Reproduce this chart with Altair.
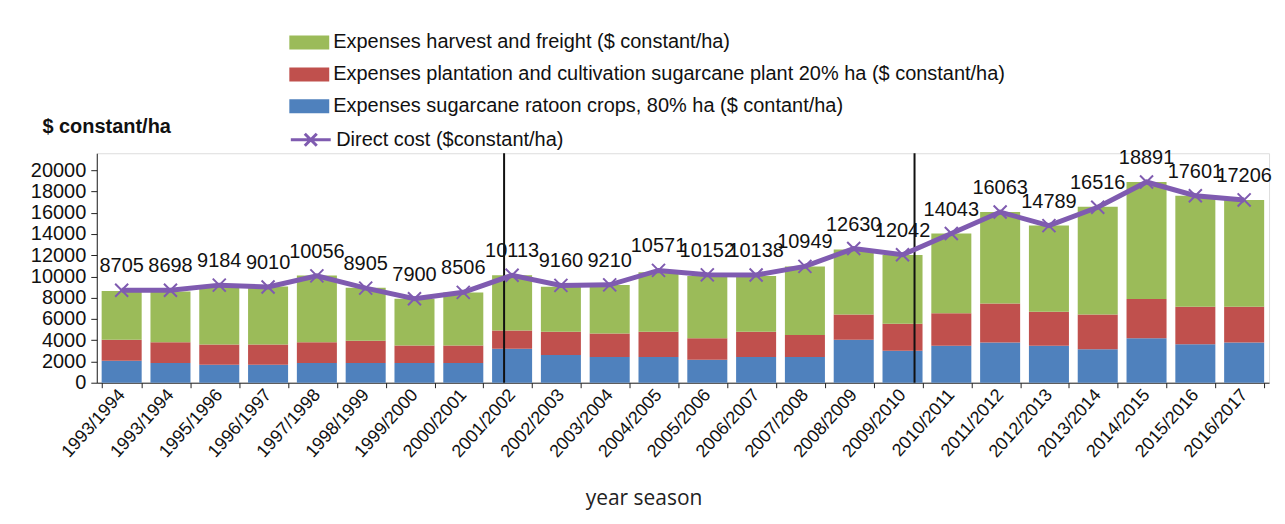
import json
import altair as alt
import pandas as pd

seasons = ["1993/1994", "1993/1994", "1995/1996", "1996/1997", "1997/1998", "1998/1999",
           "1999/2000", "2000/2001", "2001/2002", "2002/2003", "2003/2004", "2004/2005",
           "2005/2006", "2006/2007", "2007/2008", "2008/2009", "2009/2010", "2010/2011",
           "2011/2012", "2012/2013", "2013/2014", "2014/2015", "2015/2016", "2016/2017"]
direct_cost = [8705, 8698, 9184, 9010, 10056, 8905, 7900, 8506, 10113, 9160, 9210, 10571,
               10152, 10138, 10949, 12630, 12042, 14043, 16063, 14789, 16516, 18891, 17601, 17206]
ratoon = [2070, 1850, 1690, 1690, 1850, 1850, 1850, 1850, 3190, 2600, 2410, 2410,
          2160, 2410, 2410, 4040, 3000, 3470, 3790, 3470, 3160, 4190, 3630, 3790]
plantation = [1970, 1970, 1910, 1910, 1970, 2090, 1650, 1650, 1720, 2190, 2220, 2380,
              2030, 2380, 2090, 2380, 2540, 3070, 3660, 3200, 3260, 3700, 3510, 3350]
harvest = [4600, 4760, 5500, 5450, 6260, 5000, 4400, 4980, 5200, 4250, 4570, 5600,
           5860, 5260, 6450, 6130, 6480, 7510, 8610, 8120, 10140, 11010, 10450, 10070]
y_ticks = [0, 2000, 4000, 6000, 8000, 10000, 12000, 14000, 16000, 18000, 20000]

s_harvest = "Expenses harvest and freight ($ constant/ha)"
s_plant = "Expenses plantation and cultivation sugarcane plant  20%  ha ($ constant/ha)"
s_ratoon = "Expenses sugarcane ratoon crops, 80% ha ($ contant/ha)"
s_direct = "Direct cost ($constant/ha)"

series_names = [s_harvest, s_plant, s_ratoon]
series_colors = ["#9bbb59", "#c0504d", "#4f81bd"]
line_color = "#7f5bb0"

FONT = "Liberation Sans"
YMAX = 21600

rows = []
for i in range(len(seasons)):
    rows.append({"idx": i, "series": s_ratoon, "ord": 0, "value": ratoon[i]})
    rows.append({"idx": i, "series": s_plant, "ord": 1, "value": plantation[i]})
    rows.append({"idx": i, "series": s_harvest, "ord": 2, "value": harvest[i]})
bars_df = pd.DataFrame(rows)
line_df = pd.DataFrame({"idx": list(range(len(seasons))), "total": direct_cost,
                        "series": [s_direct] * len(seasons)})

labels_js = json.dumps(seasons)

x_enc = alt.X(
    "idx:O",
    scale=alt.Scale(paddingInner=0.18, paddingOuter=0.1),
    axis=alt.Axis(
        labelExpr=f"{labels_js}[datum.value]",
        labelAngle=-48, labelFontSize=18, labelFont=FONT, labelColor="#111",
        tickBand="extent", tickSize=5, tickColor="#222", domainColor="#222",
        labelPadding=4, labelOverlap=False,
        title="year season", titleFont="Open Sans", titleFontSize=21,
        titleFontWeight="normal", titleColor="#222", titleX=548, titleY=122,
        titleAnchor="middle", titleAlign="center", titleBaseline="alphabetic",
    ),
)

y_scale = alt.Scale(domain=[0, YMAX], nice=False)
y_axis = alt.Axis(
    values=y_ticks, grid=False, format="d", labelOverlap=False,
    labelFontSize=20, labelFont=FONT, labelColor="#111",
    tickSize=6, labelPadding=5, tickColor="#222", domainColor="#222",
    title="$ constant/ha", titleAngle=0, titleFont=FONT, titleFontSize=20,
    titleFontWeight="bold", titleColor="#111", titleX=-55, titleY=-21,
    titleAlign="left", titleBaseline="alphabetic",
)

bars = alt.Chart(bars_df).mark_bar().encode(
    x=x_enc,
    y=alt.Y("value:Q", stack="zero", scale=y_scale, axis=y_axis),
    fill=alt.Fill(
        "series:N",
        scale=alt.Scale(domain=series_names, range=series_colors),
        legend=alt.Legend(
            orient="none", legendX=193, legendY=-121, title=None, padding=0,
            symbolType="M-1,-0.7L3,-0.7L3,0.7L-1,0.7Z", symbolSize=400,
            symbolStrokeWidth=0, labelFontSize=20, labelFont=FONT, labelColor="#111",
            labelOffset=24, rowPadding=12, labelLimit=0,
        ),
    ),
    order=alt.Order("ord:Q", sort="ascending"),
)

y_line = alt.Y("total:Q", scale=y_scale, axis=y_axis)

line = alt.Chart(line_df).mark_line(strokeWidth=5).encode(
    x=x_enc,
    y=y_line,
    stroke=alt.Stroke(
        "series:N",
        scale=alt.Scale(domain=[s_direct], range=[line_color]),
        legend=alt.Legend(
            orient="none", legendX=193, legendY=-25, title=None, padding=0,
            symbolType="M-1,0L3,0M0.4,-0.6L1.6,0.6M0.4,0.6L1.6,-0.6", symbolSize=400,
            symbolStrokeWidth=3, labelFontSize=20, labelFont=FONT, labelColor="#111",
            labelOffset=24, labelLimit=0,
        ),
    ),
)

points = alt.Chart(line_df).mark_point(
    shape="M-1,-1L1,1M-1,1L1,-1", size=170, filled=False, strokeWidth=2,
    color=line_color, opacity=1,
).encode(x=x_enc, y=y_line)

texts = alt.Chart(line_df).mark_text(
    dy=-24, fontSize=20, font=FONT, color="#111",
).encode(x=x_enc, y=y_line, text=alt.Text("total:Q", format="d"))

div_df1 = pd.DataFrame({"idx": [8]})
div_df2 = pd.DataFrame({"idx": [16]})
rule1 = alt.Chart(div_df1).mark_rule(color="#111", strokeWidth=2).encode(
    x=alt.X("idx:O", bandPosition=0.3),
    y=alt.Y(datum=0, scale=y_scale, axis=y_axis), y2=alt.datum(YMAX)
)
rule2 = alt.Chart(div_df2).mark_rule(color="#111", strokeWidth=2).encode(
    x=alt.X("idx:O", bandPosition=0.8),
    y=alt.Y(datum=0, scale=y_scale, axis=y_axis), y2=alt.datum(YMAX)
)

chart = alt.layer(bars, rule1, rule2, line, points, texts).properties(
    width=1175, height=230,
    padding={"left": 30, "top": 32, "right": 13, "bottom": 5},
).configure_axisY(
    labelOverlap=False
).configure_view(
    stroke="#222", strokeWidth=2, strokeDash=[3, 1]
).configure(background="white")

chart.save("out.html", embed_options={"renderer": "svg", "actions": False})
